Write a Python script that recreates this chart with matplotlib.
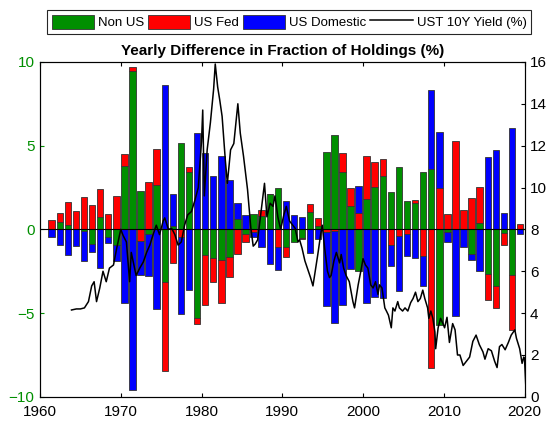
import numpy as np
import matplotlib
matplotlib.use('Agg')
import matplotlib.pyplot as plt

plt.rcParams['font.family'] = ['Liberation Sans', 'DejaVu Sans']

years = list(range(1961, 2020))

# yearly change in share of holdings (%)
non_us = [0.0, 0.45, 0.25, 0.0, -0.1, -0.9, 0.75, -0.48, -0.95, 3.77,
          9.48, 2.32, -0.3, 2.64, -3.17, 0.2, 5.16, 3.43, -5.3, -1.5,
          -1.7, -1.85, -1.65, 0.64, -0.3, 0.9, 0.8, 2.14, 2.5, -1.06,
          -0.74, -0.5, 1.04, 0.2, 4.64, 5.64, 3.4, 1.4, -2.48, 1.8,
          2.56, 3.16, 2.24, 3.7, 1.68, 1.58, 3.44, 3.6, -5.7, -0.16,
          0.0, 0.0, -1.46, 0.36, -2.66, -3.4, -0.2, -2.74, 0.0]
us_fed = [0.56, 0.55, 1.4, 1.09, 1.94, 1.45, 1.65, 0.9, 2.02, 0.75,
          0.24, -0.7, 2.8, 2.18, -5.3, -2.0, -0.45, 0.3, -0.36, -3.0,
          -1.45, -2.55, -1.2, -1.46, -0.44, -0.15, 0.35, 0.0, -1.06, -0.58,
          0.0, -0.1, 0.46, 0.45, -0.16, -0.1, 1.16, 1.06, 1.0, 2.6,
          1.44, 1.06, -0.96, -0.4, -0.3, 0.2, -1.6, -8.25, 2.5, 0.9,
          5.3, 1.14, 1.9, 2.2, -1.58, -1.3, -0.74, -3.26, 0.3]
us_dom = [-0.44, -0.93, -1.55, -1.0, -1.8, -0.45, -2.3, -0.36, -0.95, -4.4,
          -9.62, -2.0, -2.5, -4.76, 8.6, 1.9, -4.6, -3.63, 5.75, 4.56,
          3.2, 4.4, 2.95, 0.92, 0.86, -0.3, -1.05, -2.04, -1.34, 1.72,
          0.86, 0.72, -1.4, -0.6, -4.4, -5.5, -4.5, -2.34, 1.6, -4.4,
          -4.06, -4.1, -1.2, -3.3, -1.3, -1.7, -1.8, 4.7, 3.3, -0.6,
          -5.2, -1.06, -0.38, -2.5, 4.3, 4.76, 1.0, 6.06, -0.3]

# UST 10Y yield (%)
yld_t = [1963.9, 1964.5, 1965.0, 1965.5, 1966.0, 1966.4, 1966.7, 1967.0, 1967.4, 1967.8,
         1968.2, 1968.6, 1969.1, 1969.5, 1970.0, 1970.3, 1970.7, 1971.1, 1971.3, 1971.7,
         1971.9, 1972.35, 1972.8, 1973.2, 1973.6, 1974.0, 1974.4, 1974.8, 1975.25, 1975.45,
         1975.9, 1976.3, 1976.7, 1977.1, 1977.5, 1977.9, 1978.3, 1978.75, 1979.15, 1979.6,
         1980.0, 1980.15, 1980.35, 1980.7, 1981.1, 1981.5, 1981.7, 1982.0, 1982.25, 1982.55,
         1982.95, 1983.2, 1983.6, 1984.0, 1984.5, 1984.8, 1985.2, 1985.55, 1985.7, 1986.1,
         1986.4, 1986.65, 1986.95, 1987.3, 1987.8, 1988.1, 1988.5, 1988.85, 1989.1, 1989.45,
         1989.8, 1990.2, 1990.5, 1990.9, 1991.3, 1991.6, 1991.95, 1992.15, 1992.45, 1992.8,
         1993.1, 1993.5, 1993.8, 1994.0, 1994.4, 1994.75, 1994.95, 1995.25, 1995.6, 1995.85,
         1996.05, 1996.4, 1996.7, 1997.1, 1997.3, 1997.6, 1997.9, 1998.3, 1998.75, 1998.95,
         1999.4, 1999.8, 2000.0, 2000.3, 2000.6, 2000.95, 2001.25, 2001.55, 2001.85, 2002.05,
         2002.35, 2002.7, 2002.9, 2003.15, 2003.5, 2003.7, 2003.95, 2004.3, 2004.5, 2004.9,
         2005.2, 2005.55, 2005.9, 2006.2, 2006.5, 2006.8, 2007.1, 2007.4, 2007.65, 2008.0,
         2008.15, 2008.4, 2008.65, 2008.9, 2009.0, 2009.3, 2009.6, 2009.9, 2010.1, 2010.4,
         2010.7, 2011.1, 2011.4, 2011.7, 2012.0, 2012.4, 2012.8, 2013.2, 2013.6, 2014.0,
         2014.4, 2014.85, 2015.1, 2015.5, 2015.9, 2016.3, 2016.6, 2016.9, 2017.2, 2017.6,
         2018.0, 2018.35, 2018.8, 2019.0, 2019.4, 2019.7, 2019.9, 2020.0, 2020.15]
yld = [4.15, 4.2, 4.2, 4.25, 4.55, 5.3, 5.5, 4.55, 5.2, 6.0,
       5.5, 6.15, 6.3, 7.1, 8.0, 7.7, 7.4, 5.5, 6.9, 6.15,
       5.8, 6.15, 6.45, 6.9, 7.25, 7.75, 8.2, 7.75, 8.4, 8.55,
       8.0, 8.05, 7.75, 7.25, 7.4, 8.2, 8.7, 8.85, 9.35, 10.0,
       12.2, 13.7, 9.6, 11.8, 13.1, 14.7, 15.9, 14.8, 14.2, 13.4,
       11.3, 10.2, 11.8, 12.1, 14.0, 12.6, 11.5, 10.4, 9.9, 8.1,
       7.2, 7.3, 7.5, 8.6, 10.2, 8.6, 9.25, 9.1, 9.6, 8.6,
       8.0, 8.7, 9.1, 8.4, 8.2, 8.05, 7.4, 7.5, 7.1, 6.5,
       6.15, 5.7, 5.3, 5.8, 6.8, 7.75, 8.2, 7.1, 6.0, 5.7,
       5.8, 6.5, 6.9, 6.4, 6.8, 6.15, 5.8, 5.5, 4.55, 4.25,
       5.35, 6.15, 6.6, 6.3, 6.15, 5.35, 5.2, 5.5, 4.9, 5.35,
       5.2, 4.25, 4.1, 3.9, 3.3, 4.25, 4.1, 4.55, 4.25, 4.1,
       4.25, 4.1, 4.5, 4.7, 5.0, 4.55, 4.7, 5.1, 4.7, 4.25,
       3.75, 4.1, 3.75, 3.1, 2.3, 3.3, 3.75, 3.5, 3.3, 3.8,
       2.6, 3.5, 3.2, 2.0, 2.0, 1.5, 1.7, 1.9, 2.65, 2.95,
       2.5, 2.15, 1.8, 2.3, 2.2, 1.7, 1.4, 2.4, 2.5, 2.25,
       2.6, 2.95, 3.2, 2.8, 2.3, 1.6, 1.9, 1.8, 0.6]

green = '#008f00'
x = np.array(years) + 0.45
series = [('Non US', non_us, green), ('US Fed', us_fed, '#ff0000'), ('US Domestic', us_dom, '#0000ff')]

fig = plt.figure(figsize=(5.58, 4.24), dpi=100)
ax = fig.add_axes([0.0717, 0.064, 0.8683, 0.79])

# stack positives up from zero and negatives down from zero
pos_base = np.zeros(len(years))
neg_base = np.zeros(len(years))
handles = []
for name, vals, col in series:
    v = np.array(vals)
    base = np.where(v >= 0, pos_base, neg_base)
    b = ax.bar(x, v, width=0.8, bottom=base, color=col, edgecolor='#333333', linewidth=0.6, label=name)
    handles.append(b)
    pos_base = pos_base + np.where(v >= 0, v, 0)
    neg_base = neg_base + np.where(v < 0, v, 0)

ax.axhline(0, color='black', linewidth=0.8)
ax.set_xlim(1960, 2020)
ax.set_ylim(-10, 10)
ax.set_xticks(range(1960, 2021, 10))
ax.set_yticks([-10, -5, 0, 5, 10])
ax.tick_params(axis='y', colors=green, labelsize=11, direction='in', length=3, pad=4)
ax.tick_params(axis='x', labelsize=11, direction='in', length=3, top=True, pad=6)
for s in ax.spines.values():
    s.set_color('#262626')
ax.set_title('Yearly Difference in Fraction of Holdings (%)', fontsize=11, fontweight='bold', pad=5)

ax2 = ax.twinx()
line, = ax2.plot(yld_t, yld, color='black', linewidth=1.1, label='UST 10Y Yield (%)')
ax2.set_ylim(0, 16)
ax2.set_yticks(range(0, 17, 2))
ax2.tick_params(axis='y', labelsize=11, direction='in', length=3, pad=4)
ax2.set_xlim(1960, 2020)

leg = fig.legend(handles + [line], ['Non US', 'US Fed', 'US Domestic', 'UST 10Y Yield (%)'],
                 loc='upper center', bbox_to_anchor=(0.518, 0.992), ncol=4, fontsize=9.5,
                 handlelength=3.2, handleheight=1.3, columnspacing=0.3, handletextpad=0.3,
                 borderpad=0.35, fancybox=False, edgecolor='#262626', framealpha=1)
leg.get_frame().set_linewidth(0.8)

fig.savefig('out.png', dpi=100)
